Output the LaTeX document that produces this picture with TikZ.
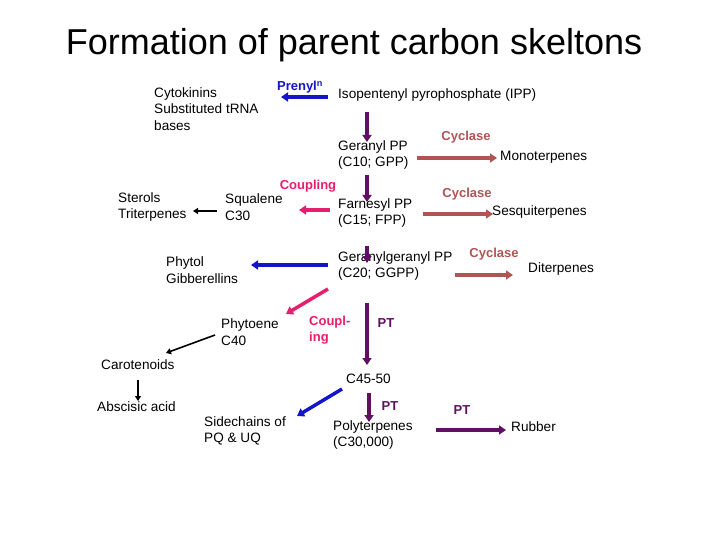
\documentclass[tikz,border=0pt]{standalone}
\usepackage{fontspec}
\setmainfont{Liberation Sans}
\usetikzlibrary{arrows.meta}
\definecolor{pur}{RGB}{96,16,96}
\definecolor{cyc}{RGB}{176,84,84}
\definecolor{blu}{RGB}{20,20,200}
\definecolor{pnk}{RGB}{230,30,110}
\tikzset{
 t/.style={anchor=west,align=left,font=\fontsize{13.6}{16.5}\selectfont,inner sep=0pt},
 lab/.style={font=\bfseries\fontsize{13}{16.5}\selectfont,inner sep=0pt},
 big/.style={line width=3.5pt,-{Triangle[length=7pt,width=9pt]}},
 thin/.style={line width=1.6pt,-{Triangle[length=5pt,width=6pt]}}
}
\begin{document}
\begin{tikzpicture}[x=1pt,y=-1pt]
\useasboundingbox (0,0) rectangle (720,540);
\node[font=\fontsize{36}{40}\selectfont] (title) at (354,45) {Formation of parent carbon skeltons};
\node[t] (cyt) at (154,109) {Cytokinins\\Substituted tRNA\\bases};
\node[lab,text=blu] (pren) at (300,87) {Prenyl\textsuperscript{n}};
\node[t] (ipp) at (338,95) {Isopentenyl pyrophosphate (IPP)};
\node[t] (gpp) at (338,155) {Geranyl PP\\(C10; GPP)};
\node[lab,text=cyc] (cy1) at (466,137) {Cyclase};
\node[t] (mono) at (500,157) {Monoterpenes};
\node[lab,text=pnk] (coup) at (308,186) {Coupling};
\node[t] (fpp) at (338,213) {Farnesyl PP\\(C15; FPP)};
\node[t] (squ) at (225,207) {Squalene\\C30};
\node[t] (ster) at (118,207) {Sterols\\Triterpenes};
\node[lab,text=cyc] (cy2) at (467,194) {Cyclase};
\node[t] (sesq) at (492,212) {Sesquiterpenes};
\node[t] (ggpp) at (338,266) {Geranylgeranyl PP\\(C20; GGPP)};
\node[lab,text=cyc] (cy3) at (494,254) {Cyclase};
\node[t] (dit) at (528,269) {Diterpenes};
\node[t] (phy) at (166,270) {Phytol\\Gibberellins};
\node[t] (phyt) at (221,332) {Phytoene\\C40};
\node[t] (car) at (101,365) {Carotenoids};
\node[t] (aba) at (97,407) {Abscisic acid};
\node[lab,text=pnk,align=left,anchor=west] (cpl) at (309,330) {Coupl-\\ing};
\node[lab,text=pur] (pt1) at (386,323) {PT};
\node[t] (c45) at (346,379) {C45-50};
\node[t] (side) at (204,431) {Sidechains of\\PQ \& UQ};
\node[lab,text=pur] (pt2) at (390,406) {PT};
\node[t] (poly) at (333,435) {Polyterpenes\\(C30,000)};
\node[lab,text=pur] (pt3) at (462,410) {PT};
\node[t] (rub) at (511,427) {Rubber};
\coordinate (a1) at (328,97); \coordinate (a2) at (281,97);
\draw[big,blu] (a1) -- (a2);
\draw[big,pur] (367,112) -- (367,142);
\draw[big,cyc] (417,158) -- (497,158);
\draw[big,pur] (367,175) -- (367,202);
\draw[big,pnk] (330,210) -- (299,210);
\draw[thin,black] (217,211) -- (193,211);
\draw[big,cyc] (423,214) -- (493,214);
\draw[big,pur] (367,246) -- (367,263);
\draw[big,cyc] (455,275) -- (513,275);
\draw[big,blu] (328,265) -- (251,265);
\draw[big,pnk] (328,289) -- (286,314);
\draw[thin,black] (215,335) -- (166,353);
\draw[thin,black] (138,380) -- (138,401);
\draw[big,pur] (367,303) -- (367,365);
\draw[big,blu] (342,389) -- (297,416);
\draw[big,pur] (369,393) -- (369,422);
\draw[big,pur] (436,430) -- (506,430);
\end{tikzpicture}
\end{document}
